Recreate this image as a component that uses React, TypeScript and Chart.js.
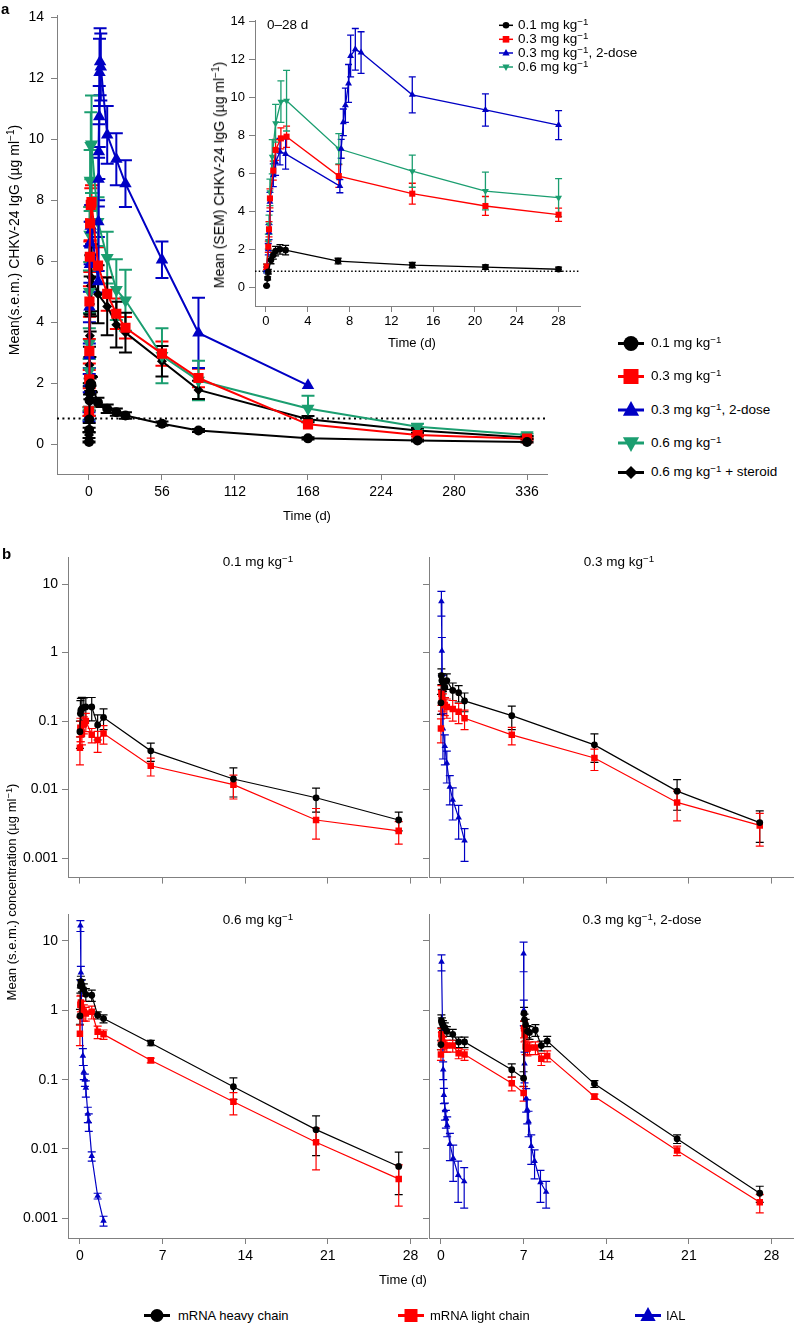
import React, { useEffect, useRef } from 'react';
import { Chart, registerables } from 'chart.js';
Chart.register(...registerables);

const FONT = "'Liberation Sans', Arial, Helvetica, sans-serif";
Chart.defaults.font.family = FONT;
Chart.defaults.color = '#000';

const C_BLACK = '#000000';
const C_RED = '#ff0000';
const C_BLUE = '#0000c4';
const C_GREEN = '#1b9e70';
const C_AXIS = '#808080';

// ---------------- Panel a data ----------------
const A_X_TICKS = [0, 56, 112, 168, 224, 280, 336];
const A_Y_TICKS = [0, 2, 4, 6, 8, 10, 12, 14];
const A_INSET_X_TICKS = [0, 4, 8, 12, 16, 20, 24, 28];
const A_INSET_Y_TICKS = [0, 2, 4, 6, 8, 10, 12, 14];
const A_LLOQ = 0.84;
const A_INSET_MAX_DAY = 28;

const A_01_T = [0.06, 0.16, 0.22, 0.48, 0.7, 0.92, 1.34, 1.88, 6.9, 14, 21, 28, 56, 84, 168, 252, 336];
const A_01_V = [0.07, 0.46, 0.81, 1.43, 1.69, 1.9, 1.99, 1.95, 1.37, 1.16, 1.05, 0.94, 0.67, 0.45, 0.19, 0.12, 0.07];
const A_01_E = [0.02, 0.08, 0.12, 0.2, 0.22, 0.25, 0.25, 0.25, 0.15, 0.14, 0.12, 0.11, 0.07, 0.05, 0.04, 0.03, 0.02];

const A_03_T = [0.06, 0.22, 0.29, 0.38, 0.7, 0.92, 1.43, 1.97, 6.97, 14, 21, 28, 56, 84, 168, 252, 336];
const A_03_V = [1.07, 2.13, 3.05, 4.68, 6.15, 7.24, 7.85, 7.94, 5.86, 4.93, 4.28, 3.82, 2.97, 2.17, 0.65, 0.3, 0.18];
const A_03_E = [0.15, 0.3, 0.4, 0.5, 0.5, 0.55, 0.55, 0.56, 0.6, 0.55, 0.5, 0.35, 0.4, 0.3, 0, 0.05, 0.03];

const A_03X2_T = [0.06, 0.22, 0.29, 0.38, 0.7, 0.92, 1.34, 1.88, 7.07, 7.2, 7.4, 7.6, 7.9, 8.1, 8.55, 9.1, 14, 21, 28, 56, 84, 168];
const A_03X2_V = [0.9, 2.0, 2.9, 4.5, 5.9, 6.6, 7.15, 7.03, 5.33, 7.3, 8.7, 9.6, 10.75, 12.2, 12.55, 12.38, 10.15, 9.35, 8.55, 6.05, 3.65, 1.93];
const A_03X2_E = [0.15, 0.3, 0.4, 0.5, 0.6, 0.7, 0.7, 0.8, 0.35, 0.5, 0.7, 0.9, 1.0, 1.1, 1.1, 1.1, 0.95, 0.85, 0.77, 0.6, 1.15, 0];

const A_06_T = [0.06, 0.22, 0.29, 0.38, 0.6, 0.92, 1.43, 1.97, 6.97, 14, 21, 28, 56, 84, 168, 252, 336];
const A_06_V = [1.0, 2.4, 3.3, 5.0, 6.88, 8.65, 9.79, 9.84, 7.3, 6.12, 5.07, 4.72, 2.9, 2.09, 1.17, 0.57, 0.3];
const A_06_E = [0.2, 0.4, 0.5, 0.7, 0.9, 1.0, 1.1, 1.6, 0.8, 0.85, 1.0, 1.0, 0.9, 0.65, 0.42, 0.1, 0.05];

const A_06S_T = [0.06, 0.22, 0.38, 0.7, 0.92, 1.43, 1.97, 7, 14, 21, 28, 56, 84, 168, 252, 336];
const A_06S_V = [0.3, 1.5, 2.6, 3.56, 4.6, 5.2, 5.46, 4.92, 4.52, 3.92, 3.66, 2.72, 1.78, 0.82, 0.45, 0.22];
const A_06S_E = [0.1, 0.4, 0.6, 0.7, 0.9, 1.0, 1.1, 0.95, 0.95, 0.75, 0.65, 0.5, 0.3, 0.1, 0.08, 0.05];

// ---------------- Panel b data ----------------
const B_X_TICKS = [0, 7, 14, 21, 28];
const B_Y_TICKS = [0.001, 0.01, 0.1, 1, 10];
const B_T = [0, 0.04, 0.08, 0.17, 0.33, 0.5, 1, 1.5, 2, 6, 13, 20, 27];

const B01_H_V = [0.07, 0.129, 0.144, 0.152, 0.158, 0.161, 0.161, 0.088, 0.113, 0.0368, 0.0143, 0.0076, 0.0036];
const B01_H_E = [0.03, 0.07, 0.07, 0.07, 0.06, 0.06, 0.06, 0.035, 0.038, 0.011, 0.0065, 0.0029, 0.0011];
const B01_L_V = [0.041, 0.08, 0.075, 0.065, 0.09, 0.1, 0.063, 0.053, 0.066, 0.0223, 0.0118, 0.0036, 0.0025];
const B01_L_E = [0.018, 0.03, 0.025, 0.02, 0.025, 0.03, 0.015, 0.018, 0.02, 0.0065, 0.0045, 0.0017, 0.0009];

const B03_H_V = [0.185, 0.46, 0.39, 0.37, 0.31, 0.39, 0.28, 0.26, 0.197, 0.12, 0.045, 0.0095, 0.0033];
const B03_H_E = [0.06, 0.12, 0.1, 0.1, 0.09, 0.1, 0.08, 0.07, 0.06, 0.045, 0.02, 0.0045, 0.0016];
const B03_L_V = [0.078, 0.25, 0.21, 0.19, 0.17, 0.16, 0.15, 0.137, 0.11, 0.063, 0.029, 0.0065, 0.003];
const B03_L_E = [0.03, 0.08, 0.07, 0.06, 0.05, 0.05, 0.05, 0.045, 0.035, 0.018, 0.01, 0.003, 0.0015];
const B03_I_T = [0.04, 0.08, 0.17, 0.33, 0.5, 0.75, 1, 1.5, 2];
const B03_I_V = [5.6, 1.06, 0.078, 0.043, 0.0245, 0.011, 0.0071, 0.0039, 0.0018];
const B03_I_E = [2.2, 0.6, 0.05, 0.02, 0.012, 0.005, 0.0035, 0.002, 0.0009];

const B06_H_V = [0.83, 2.27, 2.6, 2.3, 2.0, 1.7, 1.65, 0.85, 0.76, 0.338, 0.079, 0.019, 0.0056];
const B06_H_E = [0.2, 0.5, 0.5, 0.45, 0.4, 0.35, 0.3, 0.1, 0.1, 0.03, 0.027, 0.011, 0.0034];
const B06_L_V = [0.46, 1.2, 1.3, 1.05, 0.95, 0.9, 0.95, 0.49, 0.45, 0.19, 0.048, 0.0125, 0.0037];
const B06_L_E = [0.15, 0.4, 0.35, 0.3, 0.25, 0.2, 0.2, 0.1, 0.07, 0.015, 0.017, 0.0075, 0.0022];
const B06_I_T = [0.04, 0.08, 0.25, 0.33, 0.42, 0.5, 0.67, 0.75, 1, 1.5, 2];
const B06_I_V = [16.7, 3.5, 0.22, 0.13, 0.1, 0.076, 0.032, 0.025, 0.0079, 0.0021, 0.00092];
const B06_I_E = [3, 0.8, 0.06, 0.03, 0.02, 0.02, 0.008, 0.007, 0.0012, 0.0002, 0.00015];

const B2D_T = [0, 0.04, 0.08, 0.17, 0.33, 0.5, 1, 1.5, 2, 6, 7, 7.04, 7.08, 7.17, 7.33, 7.5, 8, 8.5, 9, 13, 20, 27];
const B2D_H_V = [0.32, 0.71, 0.66, 0.61, 0.56, 0.5, 0.45, 0.35, 0.35, 0.139, 0.105, 0.9, 0.73, 0.62, 0.5, 0.48, 0.52, 0.31, 0.36, 0.087, 0.014, 0.0023];
const B2D_H_E = [0.05, 0.15, 0.12, 0.1, 0.1, 0.08, 0.08, 0.06, 0.06, 0.03, 0.025, 0.2, 0.15, 0.12, 0.1, 0.1, 0.1, 0.05, 0.06, 0.01, 0.002, 0.0006];
const B2D_L_V = [0.23, 0.45, 0.4, 0.34, 0.31, 0.31, 0.31, 0.24, 0.23, 0.089, 0.064, 0.55, 0.45, 0.3, 0.28, 0.29, 0.29, 0.2, 0.22, 0.057, 0.0095, 0.0017];
const B2D_L_E = [0.04, 0.1, 0.08, 0.07, 0.06, 0.06, 0.06, 0.04, 0.04, 0.02, 0.015, 0.15, 0.1, 0.07, 0.06, 0.06, 0.06, 0.04, 0.04, 0.005, 0.0015, 0.0005];
const B2D_I1_T = [0.05, 0.19, 0.25, 0.34, 0.42, 0.53, 0.76, 1.04, 1.46, 1.97];
const B2D_I1_V = [5.0, 0.14, 0.06, 0.036, 0.028, 0.022, 0.0118, 0.0074, 0.0042, 0.0034];
const B2D_I1_E = [1.3, 0.04, 0.015, 0.01, 0.008, 0.007, 0.005, 0.004, 0.0025, 0.002];
const B2D_I2_T = [7.0, 7.02, 7.08, 7.22, 7.31, 7.42, 7.65, 7.93, 8.43, 8.91];
const B2D_I2_V = [6.6, 1.0, 0.17, 0.054, 0.037, 0.025, 0.011, 0.0067, 0.0033, 0.0024];
const B2D_I2_E = [3.0, 0.4, 0.08, 0.02, 0.014, 0.01, 0.005, 0.003, 0.0016, 0.001];

// ---------------- plugins ----------------
const errorBarPlugin = {
  id: 'errorBars',
  beforeDatasetsDraw(chart: any) {
    const ctx = chart.ctx;
    const xs = chart.scales.x;
    const ys = chart.scales.y;
    const a = chart.chartArea;
    ctx.save();
    ctx.beginPath();
    ctx.rect(a.left - 10, a.top - 10, a.right - a.left + 20, a.bottom - a.top + 20);
    ctx.clip();
    chart.data.datasets.forEach((ds: any) => {
      if (!ds.errs) return;
      ctx.strokeStyle = ds.errColor || ds.borderColor;
      ctx.lineWidth = ds.errWidth || 1;
      ds.data.forEach((p: any, j: number) => {
        const e = ds.errs[j];
        if (!e) return;
        const x = xs.getPixelForValue(p.x);
        const lo = p.y - e;
        const yTop = ys.getPixelForValue(p.y + e);
        const yBot = ys.type === 'logarithmic' && lo <= 0 ? a.bottom : ys.getPixelForValue(lo);
        const c = ds.errCap || 4;
        ctx.beginPath();
        ctx.moveTo(x, yTop); ctx.lineTo(x, yBot);
        ctx.moveTo(x - c, yTop); ctx.lineTo(x + c, yTop);
        ctx.moveTo(x - c, yBot); ctx.lineTo(x + c, yBot);
        ctx.stroke();
      });
    });
    ctx.restore();
  },
};

const refLinePlugin = {
  id: 'refLine',
  beforeDatasetsDraw(chart: any, _args: any, opts: any) {
    if (!opts || opts.value == null) return;
    const ctx = chart.ctx;
    const a = chart.chartArea;
    const y = chart.scales.y.getPixelForValue(opts.value);
    ctx.save();
    ctx.strokeStyle = '#000';
    ctx.lineWidth = opts.width || 1.5;
    ctx.setLineDash(opts.dash || [2, 3]);
    ctx.beginPath();
    ctx.moveTo(a.left, y);
    ctx.lineTo(a.right, y);
    ctx.stroke();
    ctx.restore();
  },
};

// ---------------- helpers ----------------
type Box = { left: number; top: number; width: number; height: number };
type Area = { left: number; top: number; right: number; bottom: number };
type Style = { color: string; shape: string; rot?: number; r: number; lw: number; cap: number; ew: number };

function makeDataset(t: number[], v: number[], e: number[], st: Style, maxX?: number) {
  const data: any[] = [];
  const errs: number[] = [];
  t.forEach((x, i) => {
    if (maxX != null && x > maxX) return;
    data.push({ x, y: v[i] });
    errs.push(e[i]);
  });
  return {
    data,
    errs,
    borderColor: st.color,
    backgroundColor: st.color,
    borderWidth: st.lw,
    pointRadius: st.r,
    pointStyle: st.shape,
    pointRotation: st.rot || 0,
    pointBackgroundColor: st.color,
    pointBorderColor: st.color,
    pointBorderWidth: 0,
    tension: 0,
    fill: false,
    errCap: st.cap,
    errWidth: st.ew,
    clip: 8,
  };
}

type PlotSpec = {
  box: Box;
  area: Area;
  xMin: number; xMax: number; xTicks: number[]; xLabels: boolean; xPad: number;
  yType: string; yMin: number; yMax: number; yTicks: number[]; yLabels: boolean; yPad: number;
  tickSize: number;
  datasets: any[];
  refLine?: any;
};

function buildConfig(s: PlotSpec): any {
  const { box, area } = s;
  return {
    type: 'line',
    data: { datasets: s.datasets },
    options: {
      animation: false,
      responsive: false,
      maintainAspectRatio: false,
      events: [],
      layout: { padding: { left: 0, top: area.top - box.top, right: box.left + box.width - area.right, bottom: 0 } },
      plugins: { legend: { display: false }, tooltip: { enabled: false }, refLine: s.refLine || {} },
      scales: {
        x: {
          type: 'linear',
          min: s.xMin,
          max: s.xMax,
          afterBuildTicks: (sc: any) => { sc.ticks = s.xTicks.map((v) => ({ value: v })); },
          afterFit: (sc: any) => { sc.height = box.top + box.height - area.bottom; },
          ticks: {
            autoSkip: false, maxRotation: 0, minRotation: 0, padding: s.xPad, color: '#000',
            font: { size: s.tickSize, family: FONT },
            callback: (v: any) => (s.xLabels ? String(v) : ''),
          },
          grid: { display: true, drawOnChartArea: false, drawTicks: true, tickLength: 6, color: C_AXIS, lineWidth: 1 },
          border: { display: true, color: C_AXIS, width: 1 },
        },
        y: {
          type: s.yType,
          min: s.yMin,
          max: s.yMax,
          afterBuildTicks: (sc: any) => { sc.ticks = s.yTicks.map((v) => ({ value: v })); },
          afterFit: (sc: any) => { sc.width = area.left - box.left; },
          ticks: {
            autoSkip: false, padding: s.yPad, color: '#000',
            font: { size: s.tickSize, family: FONT },
            callback: (v: any) => (s.yLabels ? String(v) : ''),
          },
          grid: { display: true, drawOnChartArea: false, drawTicks: true, tickLength: 6, color: C_AXIS, lineWidth: 1 },
          border: { display: true, color: C_AXIS, width: 1 },
        },
      },
    },
    plugins: [errorBarPlugin, refLinePlugin],
  };
}

function PlotCanvas({ spec }: { spec: PlotSpec }) {
  const ref = useRef<HTMLCanvasElement>(null);
  useEffect(() => {
    const chart = new Chart(ref.current as HTMLCanvasElement, buildConfig(spec));
    return () => chart.destroy();
  }, [spec]);
  const b = spec.box;
  return (
    <canvas
      ref={ref}
      width={b.width}
      height={b.height}
      style={{ position: 'absolute', left: b.left, top: b.top, width: b.width, height: b.height }}
    />
  );
}

// ---------------- styles ----------------
const MAIN_ST: Record<string, Style> = {
  s01: { color: C_BLACK, shape: 'circle', r: 5, lw: 2, cap: 6.5, ew: 2 },
  s03: { color: C_RED, shape: 'rect', r: 7.2, lw: 2, cap: 6.5, ew: 2 },
  s03x2: { color: C_BLUE, shape: 'triangle', r: 7.2, lw: 2, cap: 6.5, ew: 2 },
  s06: { color: C_GREEN, shape: 'triangle', rot: 180, r: 7.5, lw: 2, cap: 6.5, ew: 2 },
  s06s: { color: C_BLACK, shape: 'rectRot', r: 5, lw: 2, cap: 6.5, ew: 2 },
};
const INSET_ST: Record<string, Style> = {
  s01: { color: C_BLACK, shape: 'circle', r: 3.3, lw: 1.3, cap: 3.5, ew: 1.3 },
  s03: { color: C_RED, shape: 'rect', r: 4.3, lw: 1.3, cap: 3.5, ew: 1.3 },
  s03x2: { color: C_BLUE, shape: 'triangle', r: 4, lw: 1.3, cap: 3.5, ew: 1.3 },
  s06: { color: C_GREEN, shape: 'triangle', rot: 180, r: 4, lw: 1.3, cap: 3.5, ew: 1.3 },
};
const B_ST: Record<string, Style> = {
  h: { color: C_BLACK, shape: 'circle', r: 3.4, lw: 1.2, cap: 4, ew: 1.2 },
  l: { color: C_RED, shape: 'rect', r: 4.6, lw: 1.2, cap: 4, ew: 1.2 },
  i: { color: C_BLUE, shape: 'triangle', r: 3.8, lw: 1.2, cap: 4, ew: 1.2 },
};

// ---------------- specs ----------------
const MAIN_SPEC: PlotSpec = {
  box: { left: 0, top: 0, width: 560, height: 540 },
  area: { left: 57, top: 13, right: 547, bottom: 474 },
  xMin: -24.5, xMax: 351.3, xTicks: A_X_TICKS, xLabels: true, xPad: 4,
  yType: 'linear', yMin: -0.98, yMax: 14.07, yTicks: A_Y_TICKS, yLabels: true, yPad: 7,
  tickSize: 14,
  refLine: { value: A_LLOQ, dash: [2, 3.4], width: 2 },
  datasets: [
    makeDataset(A_01_T, A_01_V, A_01_E, MAIN_ST.s01),
    makeDataset(A_03_T, A_03_V, A_03_E, MAIN_ST.s03),
    makeDataset(A_03X2_T, A_03X2_V, A_03X2_E, MAIN_ST.s03x2),
    makeDataset(A_06_T, A_06_V, A_06_E, MAIN_ST.s06),
    makeDataset(A_06S_T, A_06S_V, A_06S_E, MAIN_ST.s06s),
  ],
};

const INSET_SPEC: PlotSpec = {
  box: { left: 215, top: 5, width: 380, height: 335 },
  area: { left: 255, top: 20, right: 580, bottom: 306 },
  xMin: -1.05, xMax: 30.05, xTicks: A_INSET_X_TICKS, xLabels: true, xPad: 2,
  yType: 'linear', yMin: -1.0, yMax: 14.1, yTicks: A_INSET_Y_TICKS, yLabels: true, yPad: 4,
  tickSize: 13,
  refLine: { value: A_LLOQ, dash: [1.5, 2.2], width: 1.5 },
  datasets: [
    makeDataset(A_01_T, A_01_V, A_01_E, INSET_ST.s01, A_INSET_MAX_DAY),
    makeDataset(A_03_T, A_03_V, A_03_E, INSET_ST.s03, A_INSET_MAX_DAY),
    makeDataset(A_03X2_T, A_03X2_V, A_03X2_E, INSET_ST.s03x2, A_INSET_MAX_DAY),
    makeDataset(A_06_T, A_06_V, A_06_E, INSET_ST.s06, A_INSET_MAX_DAY),
  ],
};

const B_Y_MIN = 0.00052;
const B_Y_MAX = 24.5;

function bSpec(box: Box, area: Area, xMin: number, xMax: number, xLabels: boolean, yLabels: boolean, datasets: any[]): PlotSpec {
  return {
    box, area, xMin, xMax, xTicks: B_X_TICKS, xLabels, xPad: 4,
    yType: 'logarithmic', yMin: B_Y_MIN, yMax: B_Y_MAX, yTicks: B_Y_TICKS, yLabels, yPad: 4,
    tickSize: 14, datasets,
  };
}

const B_TL = bSpec({ left: 0, top: 545, width: 432, height: 345 }, { left: 68, top: 557, right: 429, bottom: 881 }, -1.01, 29.43, false, true, [
  makeDataset(B_T, B01_H_V, B01_H_E, B_ST.h),
  makeDataset(B_T, B01_L_V, B01_L_E, B_ST.l),
]);
const B_TR = bSpec({ left: 415, top: 545, width: 383, height: 345 }, { left: 429, top: 557, right: 795, bottom: 881 }, -1.01, 29.85, false, false, [
  makeDataset(B_T, B03_H_V, B03_H_E, B_ST.h),
  makeDataset(B_T, B03_L_V, B03_L_E, B_ST.l),
  makeDataset(B03_I_T, B03_I_V, B03_I_E, B_ST.i),
]);
const B_BL = bSpec({ left: 0, top: 900, width: 432, height: 372 }, { left: 68, top: 914, right: 429, bottom: 1238 }, -1.01, 29.43, true, true, [
  makeDataset(B_T, B06_H_V, B06_H_E, B_ST.h),
  makeDataset(B_T, B06_L_V, B06_L_E, B_ST.l),
  makeDataset(B06_I_T, B06_I_V, B06_I_E, B_ST.i),
]);
const B_BR = bSpec({ left: 415, top: 900, width: 383, height: 372 }, { left: 429, top: 914, right: 795, bottom: 1238 }, -1.01, 29.85, true, false, [
  makeDataset(B2D_T, B2D_H_V, B2D_H_E, B_ST.h),
  makeDataset(B2D_T, B2D_L_V, B2D_L_E, B_ST.l),
  makeDataset(B2D_I1_T, B2D_I1_V, B2D_I1_E, B_ST.i),
  makeDataset(B2D_I2_T, B2D_I2_V, B2D_I2_E, B_ST.i),
]);

// ---------------- text & legends ----------------
function Sup({ children }: { children: any }) {
  return <span style={{ fontSize: '0.72em', position: 'relative', top: '-0.45em' }}>{children}</span>;
}
function Unit() {
  return <>mg kg<Sup>−1</Sup></>;
}

function Label({ x, y, size, children, rotate, bold, align }: any) {
  const tx = align === 'left' ? '0' : '-50%';
  return (
    <div
      style={{
        position: 'absolute', left: x, top: y, whiteSpace: 'nowrap', fontSize: size, lineHeight: 1,
        fontWeight: bold ? 'bold' : 'normal', fontFamily: FONT,
        transform: `translate(${tx}, -50%)${rotate ? ' rotate(-90deg)' : ''}`,
      }}
    >
      {children}
    </div>
  );
}

function Glyph({ x, y, shape, color, size, half, lw }: any) {
  const w = half * 2 + 2;
  const h = size * 2 + 4;
  const cx = w / 2;
  const cy = h / 2;
  let m: any = null;
  if (shape === 'circle') m = <circle cx={cx} cy={cy} r={size} fill={color} />;
  else if (shape === 'rect') m = <rect x={cx - size} y={cy - size} width={2 * size} height={2 * size} fill={color} />;
  else if (shape === 'triangle') m = <polygon points={`${cx},${cy - size} ${cx + size * 0.9},${cy + size * 0.65} ${cx - size * 0.9},${cy + size * 0.65}`} fill={color} />;
  else if (shape === 'triangleDown') m = <polygon points={`${cx},${cy + size} ${cx + size * 0.9},${cy - size * 0.65} ${cx - size * 0.9},${cy - size * 0.65}`} fill={color} />;
  else if (shape === 'diamond') m = <polygon points={`${cx},${cy - size} ${cx + size},${cy} ${cx},${cy + size} ${cx - size},${cy}`} fill={color} />;
  return (
    <svg width={w} height={h} style={{ position: 'absolute', left: x - w / 2, top: y - h / 2 }}>
      <line x1={1} y1={cy} x2={w - 1} y2={cy} stroke={color} strokeWidth={lw} />
      {m}
    </svg>
  );
}

const MAIN_LEGEND = [
  { y: 343, shape: 'circle', color: C_BLACK, size: 7.5, text: <><span>0.1 </span><Unit /></> },
  { y: 376, shape: 'rect', color: C_RED, size: 7.5, text: <><span>0.3 </span><Unit /></> },
  { y: 410, shape: 'triangle', color: C_BLUE, size: 9, text: <><span>0.3 </span><Unit /><span>, 2-dose</span></> },
  { y: 443, shape: 'triangleDown', color: C_GREEN, size: 9, text: <><span>0.6 </span><Unit /></> },
  { y: 472, shape: 'diamond', color: C_BLACK, size: 6.5, text: <><span>0.6 </span><Unit /><span> + steroid</span></> },
];
const INSET_LEGEND = [
  { y: 25, shape: 'circle', color: C_BLACK, size: 3.3, text: <><span>0.1 </span><Unit /></> },
  { y: 39, shape: 'rect', color: C_RED, size: 3.3, text: <><span>0.3 </span><Unit /></> },
  { y: 53, shape: 'triangle', color: C_BLUE, size: 4, text: <><span>0.3 </span><Unit /><span>, 2-dose</span></> },
  { y: 67, shape: 'triangleDown', color: C_GREEN, size: 4, text: <><span>0.6 </span><Unit /></> },
];
const B_LEGEND = [
  { x: 157, tx: 178, shape: 'circle', color: C_BLACK, size: 6.5, text: 'mRNA heavy chain' },
  { x: 411, tx: 430, shape: 'rect', color: C_RED, size: 6.5, text: 'mRNA light chain' },
  { x: 648, tx: 666, shape: 'triangle', color: C_BLUE, size: 8.5, text: 'IAL' },
];

export default function App() {
  return (
    <div style={{ position: 'absolute', left: 0, top: 0, width: 798, height: 1324, background: '#fff', overflow: 'hidden', fontFamily: FONT, color: '#000' }}>
      <PlotCanvas spec={MAIN_SPEC} />
      <PlotCanvas spec={INSET_SPEC} />
      <PlotCanvas spec={B_TL} />
      <PlotCanvas spec={B_TR} />
      <PlotCanvas spec={B_BL} />
      <PlotCanvas spec={B_BR} />

      <Label x={1} y={8} size={15} bold align="left">a</Label>
      <Label x={14} y={240} size={14} rotate>Mean(s.e.m.) CHKV-24 IgG (µg ml<Sup>−1</Sup>)</Label>
      <Label x={307} y={515} size={13}>Time (d)</Label>
      <Label x={219} y={175} size={14} rotate>Mean (SEM) CHKV-24 IgG (µg ml<Sup>−1</Sup>)</Label>
      <Label x={412} y={342} size={13}>Time (d)</Label>
      <Label x={267} y={25} size={13.5} align="left">0–28 d</Label>

      {INSET_LEGEND.map((it, i) => (
        <React.Fragment key={'il' + i}>
          <Glyph x={506} y={it.y} shape={it.shape} color={it.color} size={it.size} half={7} lw={1.5} />
          <Label x={518} y={it.y} size={13.5} align="left">{it.text}</Label>
        </React.Fragment>
      ))}
      {MAIN_LEGEND.map((it, i) => (
        <React.Fragment key={'ml' + i}>
          <Glyph x={631} y={it.y} shape={it.shape} color={it.color} size={it.size} half={13} lw={3} />
          <Label x={651} y={it.y} size={13.5} align="left">{it.text}</Label>
        </React.Fragment>
      ))}

      <Label x={2} y={553} size={15} bold align="left">b</Label>
      <Label x={258} y={562} size={13.5}>0.1 <Unit /></Label>
      <Label x={619} y={562} size={13.5}>0.3 <Unit /></Label>
      <Label x={258} y={920} size={13.5}>0.6 <Unit /></Label>
      <Label x={642} y={920} size={13.5}>0.3 <Unit />, 2-dose</Label>
      <Label x={12} y={892} size={13} rotate>Mean (s.e.m.) concentration (µg ml<Sup>−1</Sup>)</Label>
      <Label x={403} y={1279} size={13}>Time (d)</Label>

      {B_LEGEND.map((it, i) => (
        <React.Fragment key={'bl' + i}>
          <Glyph x={it.x} y={1315} shape={it.shape} color={it.color} size={it.size} half={13} lw={3} />
          <Label x={it.tx} y={1315} size={13} align="left">{it.text}</Label>
        </React.Fragment>
      ))}
    </div>
  );
}
